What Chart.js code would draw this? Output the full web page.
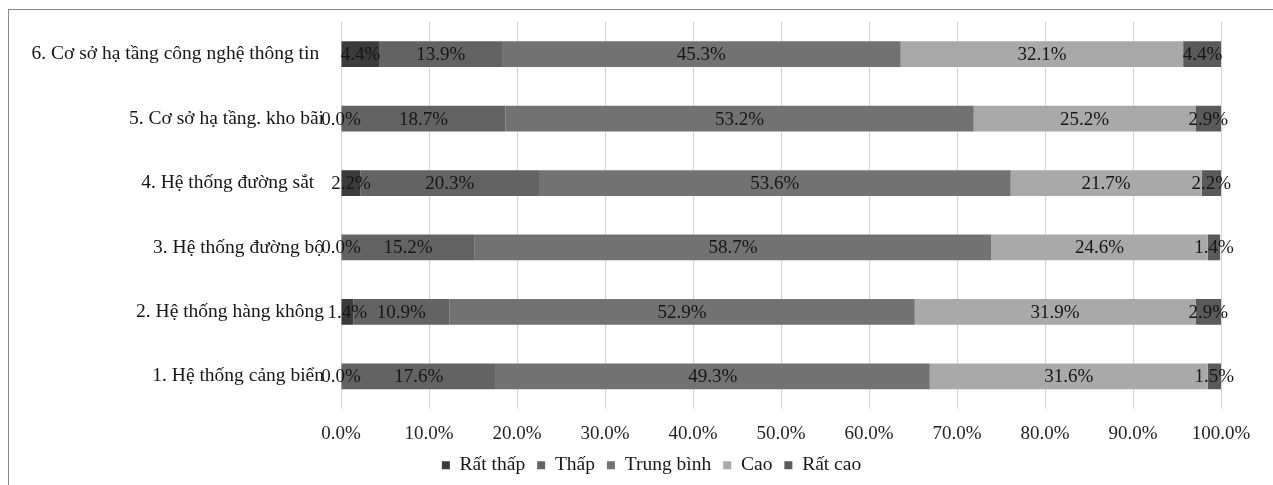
<!DOCTYPE html>
<html lang="vi">
<head>
<meta charset="utf-8">
<title>Đánh giá cơ sở hạ tầng logistics</title>
<script src="https://cdn.jsdelivr.net/npm/chart.js@4/dist/chart.umd.min.js"></script>
<style>
  html, body { margin: 0; padding: 0; background: #ffffff; overflow: hidden; }
  #frame {
    position: absolute; left: 8px; top: 9px; width: 1400px; height: 600px;
    border: 1px solid #8a8a8a; box-sizing: border-box;
  }
  #wrap { position: absolute; left: 0; top: 0; width: 1273px; height: 485px; }
</style>
</head>
<body>
<div id="frame"></div>
<div id="wrap"><canvas id="chart" width="1273" height="485"></canvas></div>
<script>
// Hạng mục cơ sở hạ tầng (thứ tự từ trên xuống)
const categories = [
  "6. Cơ sở hạ tầng công nghệ thông tin ",
  "5. Cơ sở hạ tầng. kho bãi",
  "4. Hệ thống đường sắt  ",
  "3. Hệ thống đường bộ",
  "2. Hệ thống hàng không",
  "1. Hệ thống cảng biển"
];

// Tỷ lệ đánh giá (%) theo từng mức độ
const ratThap    = [4.4, 0.0, 2.2, 0.0, 1.4, 0.0];
const thap       = [13.9, 18.7, 20.3, 15.2, 10.9, 17.6];
const trungBinh  = [45.3, 53.2, 53.6, 58.7, 52.9, 49.3];
const cao        = [32.1, 25.2, 21.7, 24.6, 31.9, 31.6];
const ratCao     = [4.4, 2.9, 2.2, 1.4, 2.9, 1.5];

const seriesNames = ["Rất thấp", "Thấp", "Trung bình", "Cao", "Rất cao"];
const seriesColors = ["#3b3b3b", "#636363", "#727272", "#a9a9a9", "#5a5a5a"];

// Mốc trục hoành
const xTicks = [0, 10, 20, 30, 40, 50, 60, 70, 80, 90, 100];

const FONT = "'Liberation Serif', 'Times New Roman', serif";
const FONT_SIZE = 19;

// Ghi nhãn phần trăm vào giữa từng đoạn cột
const segmentLabels = {
  id: "segmentLabels",
  afterDatasetsDraw(chart) {
    const ctx = chart.ctx;
    ctx.save();
    ctx.font = FONT_SIZE + "px " + FONT;
    ctx.fillStyle = "#161616";
    ctx.textAlign = "center";
    ctx.textBaseline = "middle";
    chart.data.datasets.forEach((ds, di) => {
      const meta = chart.getDatasetMeta(di);
      meta.data.forEach((bar, i) => {
        const p = bar.getProps(["x", "y", "base"], true);
        const cx = (p.x + p.base) / 2;
        ctx.fillText(ds.data[i].toFixed(1) + "%", cx, p.y + 1);
      });
    });
    ctx.restore();
  }
};

// Dời chú giải sang phải một chút để canh giữa dưới vùng vẽ
const legendShift = {
  id: "legendShift",
  afterLayout(chart) {
    const lg = chart.legend;
    if (lg) { lg.left += 26; lg.right += 26; }
  }
};

const values = [ratThap, thap, trungBinh, cao, ratCao];

new Chart(document.getElementById("chart"), {
  type: "bar",
  data: {
    labels: categories,
    datasets: values.map((v, k) => ({
      label: seriesNames[k],
      data: v,
      backgroundColor: seriesColors[k],
      borderWidth: 0,
      categoryPercentage: 0.4,
      barPercentage: 1.0
    }))
  },
  options: {
    indexAxis: "y",
    responsive: false,
    animation: false,
    devicePixelRatio: 1,
    layout: { padding: { left: 30, right: 52, top: 22, bottom: 0 } },
    scales: {
      x: {
        stacked: true,
        min: 0,
        max: 100,
        afterBuildTicks(scale) { scale.ticks = xTicks.map(v => ({ value: v })); },
        afterFit(scale) { scale.height = 35; },
        grid: { color: "#d4d4d4", drawTicks: false, lineWidth: 1 },
        border: { display: false },
        ticks: {
          padding: 14,
          color: "#222222",
          font: { family: FONT, size: FONT_SIZE },
          callback: v => v.toFixed(1) + "%"
        }
      },
      y: {
        stacked: true,
        afterFit(scale) { scale.width = 311; },
        grid: { display: false },
        border: { display: false },
        ticks: {
          padding: 9,
          color: "#161616",
          font: { family: FONT, size: 19.5 }
        }
      }
    },
    plugins: {
      legend: {
        position: "bottom",
        labels: {
          boxWidth: 8,
          boxHeight: 8,
          padding: 12,
          color: "#161616",
          font: { family: FONT, size: 19.5 }
        }
      },
      tooltip: { enabled: false }
    }
  },
  plugins: [segmentLabels, legendShift]
});
</script>
</body>
</html>
